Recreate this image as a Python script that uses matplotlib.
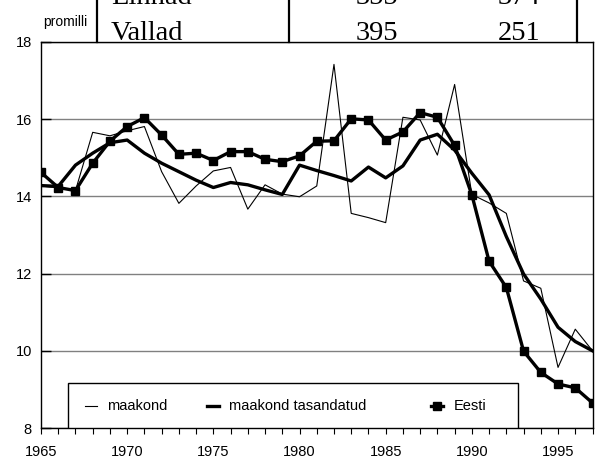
import matplotlib
matplotlib.use("Agg")
import matplotlib.pyplot as plt
from matplotlib.lines import Line2D
from matplotlib.patches import Rectangle
from matplotlib.ticker import MultipleLocator

plt.rcParams['font.family'] = ['Liberation Sans', 'DejaVu Sans']

# --- data (promilli) ---
years = list(range(1965, 1998))

maakond = [14.27, 14.22, 14.15, 15.66, 15.57, 15.70, 15.81, 14.64, 13.82, 14.27,
           14.66, 14.75, 13.67, 14.30, 14.06, 13.99, 14.27, 17.42, 13.56, 13.45,
           13.32, 16.05, 15.98, 15.07, 16.90, 14.05, 13.83, 13.56, 11.81, 11.62,
           9.57, 10.56, 10.00]

maakond_tasandatud = [14.28, 14.26, 14.81, 15.12, 15.39, 15.46, 15.12, 14.86, 14.64, 14.42,
                      14.23, 14.36, 14.30, 14.17, 14.05, 14.81, 14.67, 14.54, 14.40, 14.76,
                      14.48, 14.79, 15.46, 15.61, 15.20, 14.60, 14.04, 12.96, 11.99, 11.34,
                      10.61, 10.24, 10.00]

eesti = [14.62, 14.23, 14.15, 14.86, 15.43, 15.81, 16.04, 15.59, 15.09, 15.12,
         14.93, 15.16, 15.16, 14.96, 14.90, 15.05, 15.43, 15.44, 16.01, 15.98,
         15.46, 15.67, 16.17, 16.05, 15.32, 14.04, 12.32, 11.64, 9.99, 9.44,
         9.14, 9.04, 8.65]

legend_labels = ['maakond', 'maakond tasandatud', 'Eesti']

# table fragment at the top of the picture (cut off, as in the source)
table_rows = ['Linnad', 'Vallad']
table_col1 = ['355', '395']
table_col2 = ['374', '251']

W, H = 600, 462
fig = plt.figure(figsize=(W / 100, H / 100), dpi=100)
fig.patch.set_facecolor('white')

# axes box in pixels: left 41, right 592.5, top 42, bottom 428
ax = fig.add_axes([41 / W, 1 - 428 / H, (592.5 - 41) / W, (428 - 42) / H])

ax.plot(years, maakond, color='black', linewidth=0.8, zorder=3)
ax.plot(years, maakond_tasandatud, color='black', linewidth=2.4, zorder=4)
ax.plot(years, eesti, color='black', linewidth=2.4, marker='s', markersize=5.5, zorder=5)

ax.set_xlim(1965, 1997)
ax.set_ylim(8, 18)

ax.xaxis.set_major_locator(MultipleLocator(5))
ax.xaxis.set_minor_locator(MultipleLocator(1))
ax.yaxis.set_major_locator(MultipleLocator(2))
ax.tick_params(axis='x', which='both', direction='out', length=4.5, width=0.8,
               labelsize=10.5, pad=7.5)
ax.tick_params(axis='y', direction='in', length=7, width=1.0, labelsize=10.5, pad=6.5)

ax.yaxis.grid(True, color='#808080', linewidth=1.0, zorder=1)
ax.set_axisbelow(True)
for s in ax.spines.values():
    s.set_linewidth(1.0)
    s.set_color('black')

# --- manual legend box ---
def ax_x(px):
    return (px - 41) / (592.5 - 41)

def ax_y(py):
    return (428 - py) / (428 - 42)

ax.add_patch(Rectangle((ax_x(68), 0), ax_x(518) - ax_x(68), ax_y(383),
                       transform=ax.transAxes, facecolor='white', edgecolor='black',
                       linewidth=1.0, zorder=10))
ly = ax_y(406)
ax.add_line(Line2D([ax_x(85), ax_x(97)], [ly, ly], transform=ax.transAxes,
                   color='black', linewidth=0.8, zorder=11))
ax.add_line(Line2D([ax_x(207), ax_x(219)], [ly, ly], transform=ax.transAxes,
                   color='black', linewidth=2.4, zorder=11))
ax.add_line(Line2D([ax_x(431), ax_x(443)], [ly, ly], transform=ax.transAxes,
                   color='black', linewidth=2.4, zorder=11))
ax.add_line(Line2D([ax_x(437)], [ly], transform=ax.transAxes, color='black',
                   marker='s', markersize=5.5, linestyle='none', zorder=12))
for px, lab in zip([107, 229, 454], legend_labels):
    ax.text(ax_x(px), ly, lab, transform=ax.transAxes, ha='left', va='center',
            fontsize=10.5, zorder=12)

# --- unit label ---
fig.text(65 / W, 1 - 22 / H, 'promilli', ha='center', va='center', fontsize=10)

# --- cut-off table above the chart ---
for px in [97, 289, 577]:
    fig.add_artist(Line2D([px / W, px / W], [1 - 42 / H, 1.0], color='black',
                          linewidth=1.6, transform=fig.transFigure))
for base, name, c1, c2 in zip([4, 40], table_rows, table_col1, table_col2):
    fy = 1 - base / H
    fig.text(111 / W, fy, name, ha='left', va='baseline', fontsize=20.5,
             family='Liberation Serif')
    fig.text(377 / W, fy, c1, ha='center', va='baseline', fontsize=20.5,
             family='Liberation Serif')
    fig.text(519 / W, fy, c2, ha='center', va='baseline', fontsize=20.5,
             family='Liberation Serif')

fig.savefig('out.png', dpi=100, facecolor='white')
